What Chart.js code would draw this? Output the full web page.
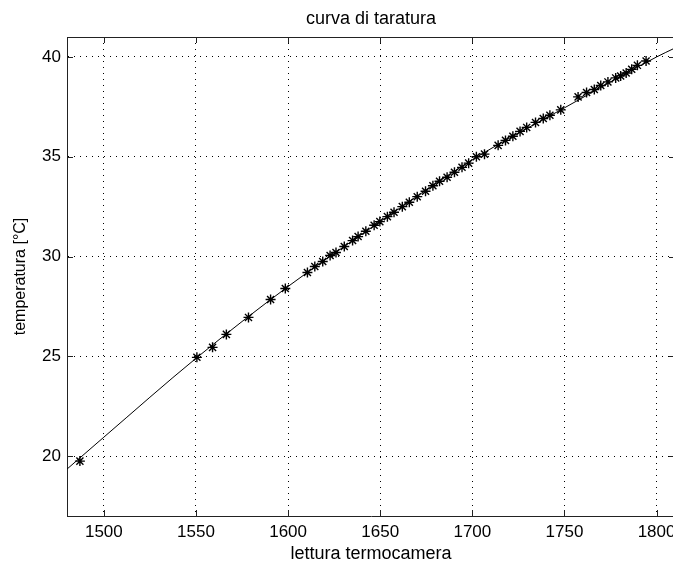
<!DOCTYPE html>
<html>
<head>
<meta charset="utf-8">
<script src="https://cdn.jsdelivr.net/npm/chart.js@4/dist/chart.umd.min.js"></script>
<style>
  html, body { margin: 0; padding: 0; background: #fff; overflow: hidden; }
  #wrap { width: 700px; height: 565px; }
</style>
</head>
<body>
<div id="wrap"><canvas id="calib"></canvas></div>
<script>
// Thermal camera reading vs measured temperature
const readings = [
    1487, 1550.5, 1559, 1566.5, 1578.5, 1590.5, 1598.5, 1610.5, 1614.5, 1618.8,
    1622.8, 1626, 1630.5, 1635, 1638, 1642.2, 1646.7, 1649.8, 1653.9, 1657.5,
    1662, 1665.8, 1670.1, 1674.6, 1678.6, 1682.2, 1686.3, 1690.3, 1694.4, 1698,
    1702.2, 1706.6, 1714, 1718, 1722, 1725.9, 1729.5, 1734.3, 1738.5, 1742.1,
    1748, 1757.4, 1762, 1766.2, 1769.7, 1773.6, 1777.8, 1780.5, 1783.5, 1786.5,
    1789.6, 1794.3
];
const temperatures = [
    19.75, 24.95, 25.45, 26.1, 26.95, 27.85, 28.4, 29.2, 29.5, 29.75,
    30.05, 30.2, 30.5, 30.8, 31.0, 31.27, 31.57, 31.75, 32.0, 32.22,
    32.5, 32.72, 33.0, 33.27, 33.55, 33.77, 33.97, 34.22, 34.47, 34.68,
    35.0, 35.13, 35.57, 35.82, 36.03, 36.27, 36.47, 36.72, 36.92, 37.08,
    37.35, 38.0, 38.22, 38.37, 38.57, 38.75, 38.95, 39.05, 39.2, 39.38,
    39.58, 39.8
];

// calibration curve
const curveX = [1480, 1500, 1550, 1600, 1650, 1700, 1750, 1800, 1810];
const curveY = [19.35, 20.95, 24.9, 28.5, 31.75, 34.85, 37.45, 40.0, 40.45];

const xTicks = [1500, 1550, 1600, 1650, 1700, 1750, 1800];
const yTicks = [20, 25, 30, 35, 40];

const FONT = '"Liberation Sans", Arial, Helvetica, sans-serif';

// MATLAB-like box: top/right frame and inward tick marks
const boxPlugin = {
    id: 'boxTicks',
    afterDraw(chart) {
        const { ctx, chartArea: a, scales } = chart;
        const len = 6;
        ctx.save();
        ctx.strokeStyle = '#222';
        ctx.lineWidth = 1;
        ctx.beginPath();
        ctx.moveTo(a.left, a.top + 0.5);
        ctx.lineTo(a.right, a.top + 0.5);
        ctx.moveTo(a.right - 0.5, a.top);
        ctx.lineTo(a.right - 0.5, a.bottom);
        xTicks.forEach(v => {
            const x = Math.round(scales.x.getPixelForValue(v)) + 0.5;
            ctx.moveTo(x, a.bottom);
            ctx.lineTo(x, a.bottom - len);
            ctx.moveTo(x, a.top);
            ctx.lineTo(x, a.top + len);
        });
        yTicks.forEach(v => {
            const y = Math.round(scales.y.getPixelForValue(v)) + 0.5;
            ctx.moveTo(a.left, y);
            ctx.lineTo(a.left + len, y);
            ctx.moveTo(a.right, y);
            ctx.lineTo(a.right - len, y);
        });
        ctx.stroke();
        ctx.restore();
    }
};

const ctx = document.getElementById('calib').getContext('2d');
new Chart(ctx, {
    type: 'scatter',
    data: {
        datasets: [
            {
                type: 'line',
                data: curveX.map((x, i) => ({ x: x, y: curveY[i] })),
                borderColor: '#000',
                borderWidth: 1,
                pointRadius: 0,
                cubicInterpolationMode: 'monotone',
                fill: false
            },
            {
                data: readings.map((x, i) => ({ x: x, y: temperatures[i] })),
                pointStyle: 'star',
                pointRadius: 5,
                borderColor: '#000',
                backgroundColor: '#000',
                borderWidth: 1.4
            }
        ]
    },
    options: {
        responsive: true,
        maintainAspectRatio: false,
        animation: false,
        layout: { padding: { left: 0, right: 25, top: 0, bottom: 0 } },
        plugins: {
            legend: { display: false },
            tooltip: { enabled: false },
            title: {
                display: true,
                fullSize: false,
                text: 'curva di taratura',
                color: '#000',
                font: { family: FONT, size: 18, weight: 'normal' },
                padding: { top: 8, bottom: 7.4 }
            }
        },
        scales: {
            x: {
                type: 'linear',
                min: 1480,
                max: 1810,
                afterBuildTicks: s => { s.ticks = xTicks.map(v => ({ value: v })); },
                afterFit: s => { s.height = 49; },
                ticks: {
                    color: '#000',
                    padding: 6,
                    maxRotation: 0,
                    font: { family: FONT, size: 17 },
                    callback: v => String(v)
                },
                grid: { color: '#000', lineWidth: 1, drawTicks: false },
                border: { display: true, color: '#222', width: 1, dash: [1, 5] },
                title: {
                    display: true,
                    text: 'lettura termocamera',
                    color: '#000',
                    font: { family: FONT, size: 18 },
                    padding: { top: 0, bottom: 0 }
                }
            },
            y: {
                type: 'linear',
                min: 17,
                max: 41,
                afterBuildTicks: s => { s.ticks = yTicks.map(v => ({ value: v })); },
                afterFit: s => { s.width = 67; },
                ticks: {
                    color: '#000',
                    padding: 6,
                    font: { family: FONT, size: 17 },
                    callback: v => String(v)
                },
                grid: { color: '#000', lineWidth: 1, drawTicks: false },
                border: { display: true, color: '#222', width: 1, dash: [1, 5] },
                title: {
                    display: true,
                    text: 'temperatura [°C]',
                    color: '#000',
                    font: { family: FONT, size: 16 },
                    padding: { top: 11, bottom: 0 }
                }
            }
        }
    },
    plugins: [boxPlugin]
});
</script>
</body>
</html>
